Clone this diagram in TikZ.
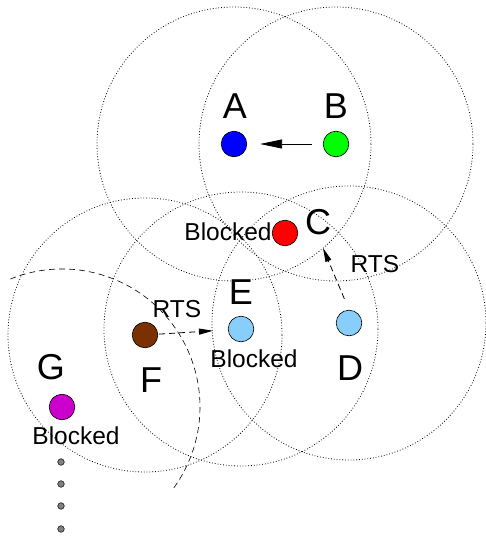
\documentclass[tikz,border=0pt]{standalone}
\usepackage{fontspec}
\setmainfont{Liberation Sans}
\usepackage{xcolor}
\usetikzlibrary{arrows.meta}

\definecolor{nodeblue}{RGB}{0,0,255}
\definecolor{nodegreen}{RGB}{0,255,0}
\definecolor{nodered}{RGB}{255,0,0}
\definecolor{nodesky}{RGB}{135,206,250}
\definecolor{nodebrown}{RGB}{122,48,0}
\definecolor{nodemagenta}{RGB}{204,0,204}

\tikzset{
  station/.style={circle,draw,line width=0.6pt,inner sep=0pt,minimum size=25.6pt},
  rangeline/.style={dotted,line width=0.8pt},
  bigname/.style={anchor=base,inner sep=0pt,font=\fontsize{36}{40}\selectfont},
  tag/.style={anchor=base,inner sep=0pt,font=\fontsize{24.5}{28}\selectfont},
}

\begin{document}
\begin{tikzpicture}[x=1pt,y=-1pt]
\useasboundingbox (0,0) rectangle (485,538);

% Define the stations
\node[station,fill=nodeblue] (A) at (234,144) {};
\node[station,fill=nodegreen] (B) at (336,144) {};
\node[station,fill=nodered] (C) at (285,233) {};
\node[station,fill=nodesky] (D) at (349,323) {};
\node[station,fill=nodesky] (E) at (241,329) {};
\node[station,fill=nodebrown] (F) at (145,335) {};
\node[station,fill=nodemagenta] (G) at (62,407) {};
\coordinate (toC) at (323,248);

% Draw the ranges
\draw[rangeline] (A) circle (137);
\draw[rangeline] (B) circle (137);
\draw[rangeline] (D) circle (137);
\draw[rangeline] (E) circle (137);
\draw[rangeline] (F) circle (137);
\draw[dash pattern=on 6pt off 4pt,line width=0.6pt] (G) ++(-112:138) arc (-112:37:138);

% Draw the names
\node[bigname] (nameA) at (235,118) {A};
\node[bigname] (nameB) at (336,118) {B};
\node[bigname] (nameC) at (318,234) {C};
\node[bigname] (nameD) at (350,380) {D};
\node[bigname] (nameE) at (241,304) {E};
\node[bigname] (nameF) at (151,392) {F};
\node[bigname] (nameG) at (51,379) {G};

% Draw the blocked tags
\node[tag] (blockC) at (228,240) {Blocked};
\node[tag] (blockE) at (254,367) {Blocked};
\node[tag] (blockG) at (76,444) {Blocked};

% Draw the transmissions
\draw[-{Triangle[length=22pt,width=9pt]},line width=0.8pt,shorten <=11pt,shorten >=13pt] (B) -- (A);
\draw[-{Triangle[length=14pt,width=6pt]},dash pattern=on 6pt off 4pt,line width=0.8pt,shorten <=1pt,shorten >=15pt] (F) -- (E);
\draw[-{Triangle[length=14pt,width=6pt]},dash pattern=on 6pt off 4pt,line width=0.8pt,shorten <=12pt] (D.north) -- (toC);
\node[tag] (rtsF) at (177,317) {RTS};
\node[tag] (rtsC) at (375,272) {RTS};

% Draw the further stations
\foreach \y [count=\i] in {462,484,506,529}
  \node[circle,draw,fill=gray,inner sep=0pt,minimum size=6.6pt,line width=0.5pt] (dot\i) at (61,\y) {};

\end{tikzpicture}
\end{document}
